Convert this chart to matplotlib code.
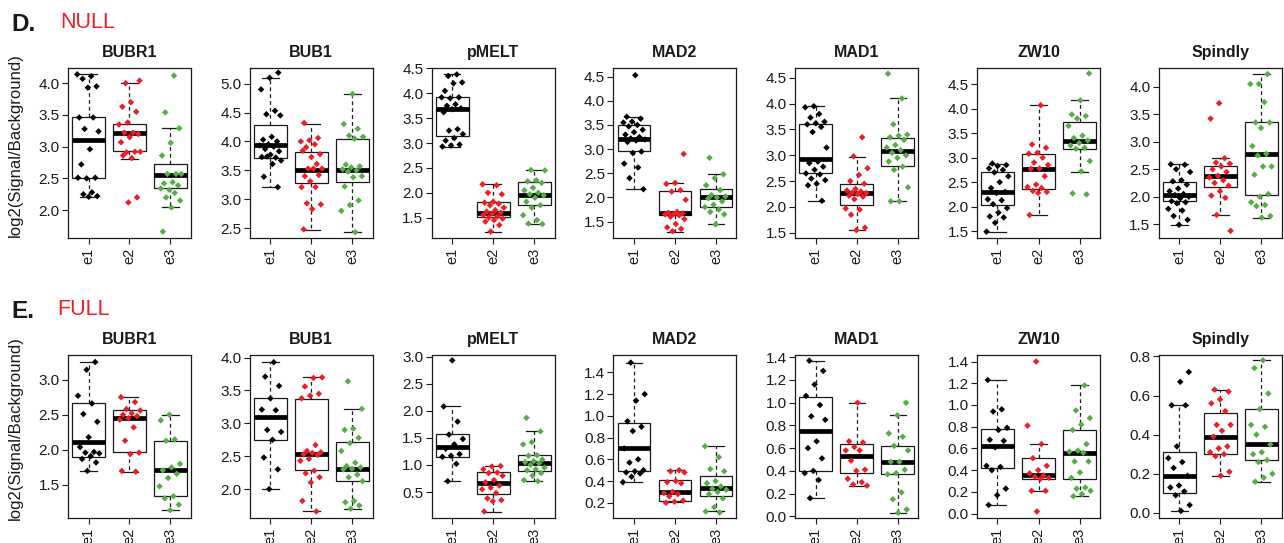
import matplotlib
matplotlib.use("Agg")
import matplotlib.pyplot as plt
from matplotlib.ticker import FormatStrFormatter

plt.rcParams['font.family'] = ['Liberation Sans', 'DejaVu Sans']

genes = ['BUBR1', 'BUB1', 'pMELT', 'MAD2', 'MAD1', 'ZW10', 'Spindly']
groups = ['e1', 'e2', 'e3']
group_colors = ['#000000', '#EE1C25', '#55AE45']

# ---------------- NULL (row D) ----------------
# box stats per group: (whisker low, q1, median, q3, whisker high)
null_BUBR1_box = [(2.21, 2.51, 3.10, 3.47, 4.14), (2.81, 2.93, 3.22, 3.36, 4.01), (2.05, 2.35, 2.56, 2.73, 3.29)]
null_BUBR1_pts = [
    [4.14, 4.11, 4.07, 3.95, 3.93, 3.46, 3.46, 3.28, 3.24, 2.96, 2.72, 2.51, 2.50, 2.51, 2.28, 2.25, 2.22, 2.21],
    [4.00, 4.04, 3.70, 3.63, 3.55, 3.38, 3.35, 3.22, 3.22, 3.20, 3.15, 3.07, 2.92, 2.91, 2.92, 2.82, 2.86, 2.20, 2.12],
    [4.12, 3.54, 3.29, 3.06, 2.86, 2.57, 2.57, 2.57, 2.44, 2.42, 2.39, 2.32, 2.34, 2.27, 2.20, 2.15, 2.04, 1.66],
]
null_BUB1_box = [(3.21, 3.71, 3.94, 4.28, 5.10), (2.47, 3.28, 3.51, 3.82, 4.31), (2.43, 3.29, 3.51, 4.05, 4.82)]
null_BUB1_pts = [
    [5.19, 5.10, 4.90, 4.53, 4.47, 4.45, 4.08, 4.03, 4.00, 3.95, 3.93, 3.91, 3.87, 3.83, 3.77, 3.73, 3.72, 3.74, 3.67, 3.61, 3.39, 3.21],
    [4.32, 4.06, 4.02, 4.00, 3.95, 3.90, 3.78, 3.73, 3.84, 3.61, 3.53, 3.53, 3.53, 3.40, 3.42, 3.31, 3.21, 3.21, 2.93, 2.91, 2.83, 2.48],
    [4.82, 4.30, 4.22, 4.10, 4.08, 4.05, 3.60, 3.57, 3.55, 3.52, 3.50, 3.48, 3.40, 3.38, 3.22, 2.98, 2.90, 2.80, 2.43],
]
null_pMELT_box = [(2.92, 3.14, 3.68, 3.92, 4.38), (1.22, 1.52, 1.60, 1.82, 2.17), (1.37, 1.76, 1.96, 2.21, 2.45)]
null_pMELT_pts = [
    [4.38, 4.35, 4.22, 4.20, 4.05, 3.92, 3.90, 3.92, 3.78, 3.75, 3.70, 3.68, 3.62, 3.28, 3.25, 3.18, 3.10, 3.05, 2.97, 2.95, 2.93],
    [2.17, 2.15, 2.00, 1.97, 1.82, 1.80, 1.78, 1.75, 1.70, 1.65, 1.62, 1.60, 1.58, 1.55, 1.52, 1.50, 1.48, 1.45, 1.42, 1.35, 1.22],
    [2.46, 2.45, 2.25, 2.23, 2.20, 2.10, 2.05, 2.00, 1.97, 1.95, 1.90, 1.82, 1.75, 1.70, 1.55, 1.45, 1.38, 1.37],
]
null_MAD2_box = [(2.17, 2.96, 3.20, 3.50, 3.67), (1.28, 1.63, 1.67, 2.13, 2.29), (1.44, 1.80, 2.00, 2.17, 2.48)]
null_MAD2_pts = [
    [4.53, 3.67, 3.63, 3.57, 3.55, 3.50, 3.47, 3.40, 3.35, 3.30, 3.25, 3.22, 3.20, 3.18, 3.15, 2.95, 2.92, 2.70, 2.62, 2.40, 2.17],
    [2.90, 2.30, 2.28, 2.15, 2.12, 1.95, 1.70, 1.68, 1.67, 1.66, 1.65, 1.63, 1.60, 1.55, 1.45, 1.38, 1.35, 1.30],
    [2.82, 2.48, 2.40, 2.25, 2.15, 2.05, 2.02, 2.00, 1.98, 1.92, 1.85, 1.80, 1.75, 1.70, 1.65, 1.44],
]
null_MAD1_box = [(2.12, 2.65, 2.92, 3.60, 3.95), (1.55, 2.04, 2.27, 2.44, 2.97), (2.11, 2.80, 3.08, 3.33, 4.10)]
null_MAD1_pts = [
    [3.95, 3.93, 3.80, 3.73, 3.65, 3.62, 3.60, 3.55, 3.45, 3.15, 2.88, 2.85, 2.78, 2.72, 2.65, 2.63, 2.55, 2.52, 2.45, 2.42, 2.12],
    [3.35, 2.98, 2.75, 2.62, 2.50, 2.45, 2.35, 2.32, 2.30, 2.28, 2.27, 2.25, 2.22, 2.20, 2.15, 1.97, 1.95, 1.85, 1.60, 1.55],
    [4.58, 4.10, 3.60, 3.40, 3.38, 3.35, 3.30, 3.20, 3.15, 3.10, 3.05, 3.00, 2.95, 2.88, 2.78, 2.72, 2.38, 2.11, 2.11],
]
null_ZW10_box = [(1.49, 2.04, 2.30, 2.71, 2.88), (1.83, 2.36, 2.76, 3.07, 4.07), (2.70, 3.18, 3.35, 3.72, 4.17)]
null_ZW10_pts = [
    [2.88, 2.85, 2.83, 2.78, 2.75, 2.70, 2.62, 2.50, 2.38, 2.30, 2.28, 2.15, 2.13, 2.05, 1.97, 1.88, 1.80, 1.78, 1.67, 1.49],
    [4.07, 3.27, 3.20, 3.10, 3.08, 3.00, 2.90, 2.85, 2.78, 2.77, 2.62, 2.45, 2.40, 2.38, 2.32, 2.30, 2.28, 1.83],
    [4.72, 4.17, 3.88, 3.85, 3.80, 3.65, 3.45, 3.40, 3.35, 3.30, 3.25, 3.20, 3.18, 2.93, 2.72, 2.27, 2.25],
]
null_Spindly_box = [(1.49, 1.92, 2.04, 2.26, 2.59), (1.67, 2.17, 2.37, 2.56, 2.70), (1.62, 2.03, 2.77, 3.35, 4.23)]
null_Spindly_pts = [
    [2.59, 2.58, 2.50, 2.45, 2.30, 2.28, 2.22, 2.15, 2.10, 2.05, 2.03, 2.00, 1.97, 1.92, 1.90, 1.88, 1.78, 1.75, 1.65, 1.58, 1.49],
    [3.70, 3.42, 2.70, 2.62, 2.60, 2.55, 2.50, 2.45, 2.38, 2.35, 2.30, 2.25, 2.20, 2.10, 2.02, 1.98, 1.67, 1.38],
    [4.23, 4.05, 4.05, 3.72, 3.35, 3.35, 3.25, 2.92, 2.78, 2.75, 2.55, 2.55, 2.40, 2.05, 2.00, 1.90, 1.85, 1.83, 1.65, 1.62],
]

# ---------------- FULL (row E) ----------------
full_BUBR1_box = [(1.70, 1.90, 2.11, 2.67, 3.25), (1.69, 1.97, 2.45, 2.57, 2.75), (1.14, 1.34, 1.71, 2.12, 2.50)]
full_BUBR1_pts = [
    [3.25, 3.14, 2.77, 2.66, 2.51, 2.40, 2.18, 2.04, 1.97, 1.96, 1.95, 1.91, 1.87, 1.82, 1.70],
    [2.75, 2.68, 2.58, 2.56, 2.52, 2.50, 2.48, 2.45, 2.43, 2.32, 2.13, 1.96, 1.94, 1.70, 1.69],
    [2.50, 2.42, 2.15, 2.13, 1.80, 1.75, 1.71, 1.66, 1.60, 1.48, 1.34, 1.31, 1.22, 1.14],
]
full_BUB1_box = [(2.00, 2.75, 3.10, 3.39, 3.93), (1.66, 2.29, 2.54, 3.37, 3.70), (1.70, 2.12, 2.31, 2.71, 3.22)]
full_BUB1_pts = [
    [3.93, 3.71, 3.57, 3.38, 3.21, 3.20, 2.90, 2.87, 2.75, 2.48, 2.30, 2.00],
    [3.70, 3.69, 3.56, 3.45, 3.42, 3.38, 2.67, 2.58, 2.56, 2.55, 2.53, 2.52, 2.46, 2.43, 2.28, 2.24, 2.18, 2.10, 1.82, 1.66],
    [3.64, 3.22, 2.92, 2.90, 2.78, 2.70, 2.58, 2.40, 2.35, 2.33, 2.31, 2.30, 2.22, 2.18, 2.12, 1.82, 1.80, 1.75, 1.70],
]
full_pMELT_box = [(0.70, 1.15, 1.34, 1.57, 2.08), (0.14, 0.47, 0.67, 0.87, 0.98), (0.70, 0.89, 1.03, 1.19, 1.62)]
full_pMELT_pts = [
    [2.93, 2.08, 1.80, 1.56, 1.48, 1.38, 1.30, 1.20, 1.17, 1.15, 1.02, 0.70],
    [0.98, 0.97, 0.92, 0.86, 0.85, 0.80, 0.72, 0.68, 0.62, 0.58, 0.55, 0.48, 0.38, 0.35, 0.33, 0.14],
    [1.87, 1.62, 1.42, 1.38, 1.18, 1.17, 1.10, 1.07, 1.05, 1.03, 1.00, 0.95, 0.92, 0.90, 0.85, 0.80, 0.72, 0.70],
]
full_MAD2_box = [(0.39, 0.49, 0.70, 0.93, 1.49), (0.21, 0.22, 0.30, 0.41, 0.50), (0.12, 0.26, 0.34, 0.45, 0.72)]
full_MAD2_pts = [
    [1.49, 1.20, 1.14, 0.95, 0.90, 0.86, 0.70, 0.60, 0.57, 0.50, 0.49, 0.48, 0.47, 0.44, 0.39],
    [0.50, 0.49, 0.48, 0.40, 0.39, 0.38, 0.30, 0.29, 0.28, 0.26, 0.22, 0.21, 0.20],
    [0.72, 0.62, 0.51, 0.49, 0.40, 0.38, 0.35, 0.33, 0.32, 0.30, 0.28, 0.24, 0.16, 0.12, 0.11],
]
full_MAD1_box = [(0.16, 0.40, 0.75, 1.05, 1.37), (0.27, 0.38, 0.53, 0.64, 1.00), (0.03, 0.37, 0.48, 0.62, 0.89)]
full_MAD1_pts = [
    [1.37, 1.28, 1.16, 1.06, 0.98, 0.88, 0.85, 0.66, 0.60, 0.51, 0.40, 0.38, 0.32, 0.16],
    [1.00, 0.66, 0.65, 0.61, 0.58, 0.58, 0.49, 0.41, 0.40, 0.33, 0.30, 0.28, 0.27],
    [1.00, 0.89, 0.73, 0.70, 0.62, 0.58, 0.48, 0.48, 0.41, 0.38, 0.37, 0.21, 0.15, 0.06, 0.03],
]
full_ZW10_box = [(0.08, 0.42, 0.62, 0.78, 1.23), (0.21, 0.32, 0.36, 0.51, 0.64), (0.16, 0.32, 0.56, 0.77, 1.18)]
full_ZW10_pts = [
    [1.23, 0.96, 0.94, 0.79, 0.77, 0.68, 0.67, 0.61, 0.44, 0.43, 0.40, 0.23, 0.17, 0.08],
    [1.40, 0.81, 0.64, 0.51, 0.44, 0.40, 0.37, 0.35, 0.34, 0.33, 0.32, 0.21, 0.21, 0.02],
    [1.18, 0.95, 0.88, 0.82, 0.77, 0.64, 0.58, 0.57, 0.56, 0.48, 0.48, 0.38, 0.33, 0.24, 0.23, 0.21, 0.18, 0.16],
]
full_Spindly_box = [(0.01, 0.10, 0.19, 0.31, 0.55), (0.19, 0.30, 0.39, 0.51, 0.63), (0.16, 0.27, 0.35, 0.53, 0.78)]
full_Spindly_pts = [
    [0.72, 0.67, 0.55, 0.55, 0.34, 0.28, 0.26, 0.23, 0.19, 0.14, 0.13, 0.11, 0.09, 0.04, 0.01],
    [0.63, 0.62, 0.58, 0.56, 0.52, 0.45, 0.45, 0.42, 0.39, 0.34, 0.33, 0.31, 0.30, 0.29, 0.21, 0.19],
    [0.78, 0.74, 0.61, 0.53, 0.45, 0.44, 0.40, 0.35, 0.31, 0.30, 0.27, 0.26, 0.20, 0.18, 0.16],
]

# axis ranges and ticks per panel
null_ylims = [(1.56, 4.24), (2.33, 5.27), (1.09, 4.51), (1.16, 4.68), (1.40, 4.69), (1.36, 4.83), (1.25, 4.34)]
null_yticks = [[2.0, 2.5, 3.0, 3.5, 4.0], [2.5, 3.0, 3.5, 4.0, 4.5, 5.0], [1.5, 2.0, 2.5, 3.0, 3.5, 4.0, 4.5],
               [1.5, 2.0, 2.5, 3.0, 3.5, 4.0, 4.5], [1.5, 2.0, 2.5, 3.0, 3.5, 4.0, 4.5],
               [1.5, 2.0, 2.5, 3.0, 3.5, 4.0, 4.5], [1.5, 2.0, 2.5, 3.0, 3.5, 4.0]]
full_ylims = [(1.03, 3.35), (1.56, 4.04), (0.02, 3.03), (0.06, 1.56), (-0.015, 1.42), (-0.04, 1.46), (-0.026, 0.807)]
full_yticks = [[1.5, 2.0, 2.5, 3.0], [2.0, 2.5, 3.0, 3.5, 4.0], [0.5, 1.0, 1.5, 2.0, 2.5, 3.0],
               [0.2, 0.4, 0.6, 0.8, 1.0, 1.2, 1.4], [0.0, 0.2, 0.4, 0.6, 0.8, 1.0, 1.2, 1.4],
               [0.0, 0.2, 0.4, 0.6, 0.8, 1.0, 1.2, 1.4], [0.0, 0.2, 0.4, 0.6, 0.8]]

null_boxes = [null_BUBR1_box, null_BUB1_box, null_pMELT_box, null_MAD2_box, null_MAD1_box, null_ZW10_box, null_Spindly_box]
null_points = [null_BUBR1_pts, null_BUB1_pts, null_pMELT_pts, null_MAD2_pts, null_MAD1_pts, null_ZW10_pts, null_Spindly_pts]
full_boxes = [full_BUBR1_box, full_BUB1_box, full_pMELT_box, full_MAD2_box, full_MAD1_box, full_ZW10_box, full_Spindly_box]
full_points = [full_BUBR1_pts, full_BUB1_pts, full_pMELT_pts, full_MAD2_pts, full_MAD1_pts, full_ZW10_pts, full_Spindly_pts]

W, H = 1284, 543
fig = plt.figure(figsize=(W / 100, H / 100), dpi=100)
fig.patch.set_facecolor('white')

TICK_FS = 11
XTICK_FS = 10.5
TITLE_FS = 11.5
INK = '#1a1a1a'


def jitter(n, seed):
    # deterministic spread of x offsets (golden ratio sequence)
    return [(((k + seed) * 0.6180339887) % 1.0 - 0.5) * 0.55 for k in range(n)]


def draw_panel(rect, title, boxes, points, ylim, yticks, seed):
    ax = fig.add_axes(rect)
    stats = []
    for (wl, q1, med, q3, wh), g in zip(boxes, groups):
        stats.append(dict(whislo=wl, q1=q1, med=med, q3=q3, whishi=wh, fliers=[], label=g))
    ax.bxp(stats, positions=[1, 2, 3], widths=0.8, showfliers=False, patch_artist=True,
           boxprops=dict(facecolor='none', edgecolor=INK, linewidth=0.9),
           medianprops=dict(color='black', linewidth=3.4, solid_capstyle='butt'),
           whiskerprops=dict(color=INK, linewidth=0.9, linestyle=(0, (3, 2.5))),
           capprops=dict(color=INK, linewidth=0.9), capwidths=0.4, zorder=2)
    for i, (vals, col) in enumerate(zip(points, group_colors)):
        offs = jitter(len(vals), seed + i * 7)
        ax.scatter([i + 1 + o for o in offs], vals, marker='D', s=11, color=col,
                   edgecolors='none', zorder=3)
    ax.set_xlim(0.5, 3.5)
    ax.set_ylim(*ylim)
    ax.set_yticks(yticks)
    ax.yaxis.set_major_formatter(FormatStrFormatter('%.1f'))
    ax.set_xticks([1, 2, 3])
    ax.set_xticklabels(groups, rotation=90)
    ax.tick_params(axis='both', direction='out', length=4, width=0.8,
                   colors=INK, pad=2)
    ax.tick_params(axis='y', labelsize=TICK_FS)
    ax.tick_params(axis='x', labelsize=XTICK_FS, pad=3)
    for sp in ax.spines.values():
        sp.set_linewidth(0.9)
        sp.set_color(INK)
    ax.set_title(title, fontsize=TITLE_FS, fontweight='bold', pad=8, color=INK)
    return ax


lefts = [68 + i * 181.8 for i in range(7)]
pw = 123
rows = [
    (68, 238, null_boxes, null_points, null_ylims, null_yticks),
    (355, 518, full_boxes, full_points, full_ylims, full_yticks),
]
for r, (top, bot, boxes, points, ylims, yticks) in enumerate(rows):
    for j, g in enumerate(genes):
        rect = [lefts[j] / W, 1 - bot / H, pw / W, (bot - top) / H]
        draw_panel(rect, g, boxes[j], points[j], ylims[j], yticks[j], seed=j * 3 + r * 11)
    fig.text(15 / W, 1 - ((top + bot) / 2 - 8) / H, 'log2(Signal/Background)', rotation=90,
             ha='center', va='center', fontsize=12, color=INK)

fig.text(11 / W, 1 - 31 / H, 'D.', fontsize=17.5, fontweight='bold', ha='left', va='baseline', color=INK)
fig.text(60 / W, 1 - 28 / H, 'NULL', fontsize=15.5, color='#F01E23', ha='left', va='baseline')
fig.text(11 / W, 1 - 318 / H, 'E.', fontsize=17.5, fontweight='bold', ha='left', va='baseline', color=INK)
fig.text(57 / W, 1 - 315 / H, 'FULL', fontsize=15.5, color='#F01E23', ha='left', va='baseline')

fig.savefig('out.png', dpi=100, facecolor='white')
